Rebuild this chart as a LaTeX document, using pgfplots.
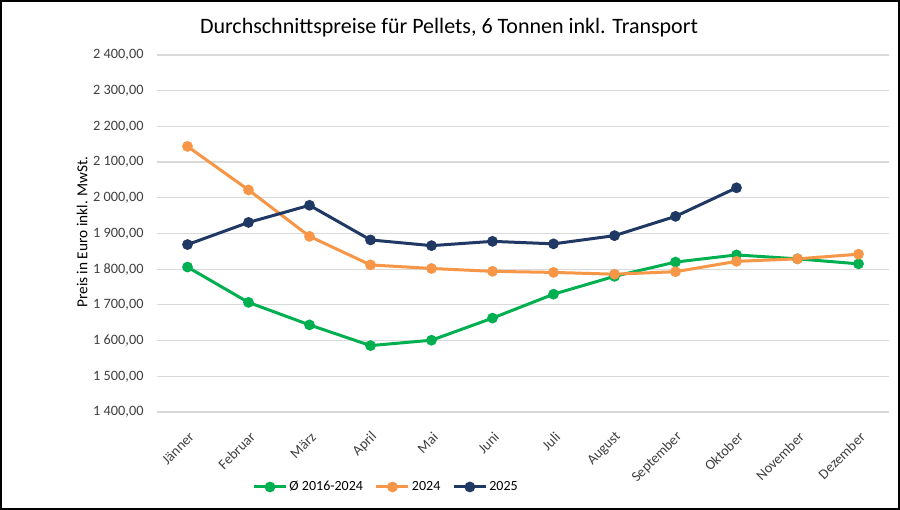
\documentclass[border=0pt]{standalone}
\usepackage{pgfplots}
\pgfplotsset{compat=1.18}
\usepackage{fontspec}
\setmainfont{Carlito}
\definecolor{cgreen}{HTML}{00B050}
\definecolor{corange}{HTML}{F79646}
\definecolor{cnavy}{HTML}{1F3864}
\definecolor{ctick}{HTML}{404040}
\definecolor{cgrid}{HTML}{D9D9D9}
\begin{document}
\begin{tikzpicture}
\useasboundingbox (0,0) rectangle (900bp,510bp);
\fill[white] (0,0) rectangle (900bp,510bp);
\begin{axis}[
  at={(157bp,98bp)}, anchor=south west,
  scale only axis, width=732bp, height=357bp,
  xmin=-0.5, xmax=11.5, ymin=1400, ymax=2400,
  axis line style={draw=none},
  major tick length=0pt,
  ymajorgrids, grid style={cgrid, line width=1.2bp},
  ytick={1400,1500,...,2400},
  yticklabels={{1 400,00},{1 500,00},{1 600,00},{1 700,00},{1 800,00},{1 900,00},{2 000,00},{2 100,00},{2 200,00},{2 300,00},{2 400,00}},
  yticklabel style={font=\fontsize{14.3bp}{17bp}\selectfont, text=ctick, xshift=-10bp},
  xtick={0,...,11},
  xticklabels={Jänner,Februar,März,April,Mai,Juni,Juli,August,September,Oktober,November,Dezember},
  xticklabel style={font=\fontsize{14.3bp}{17bp}\selectfont, text=ctick, rotate=45, anchor=east, inner sep=0pt, xshift=-13bp, yshift=-19bp},
  legend columns=3,
  legend style={at={(0.313,-0.21)}, anchor=center, draw=none, fill=none,
    font=\fontsize{14bp}{17bp}\selectfont, text=black,
    /tikz/every even column/.append style={column sep=10bp}},
  legend image code/.code={
    \draw[#1, mark repeat=2, mark phase=2] plot coordinates {(0bp,0bp) (16bp,0bp) (32bp,0bp)};
  },
  every axis plot/.append style={line width=3bp, mark=*, mark size=3.8bp, mark options={line width=0bp}},
]
\addplot[cgreen, mark options={fill=cgreen, draw=cgreen}] coordinates {
(0,1806) (1,1707) (2,1644) (3,1586) (4,1601) (5,1663) (6,1730) (7,1780) (8,1820) (9,1840) (10,1829) (11,1815)};
\addlegendentry{Ø 2016-2024}
\addplot[corange, mark options={fill=corange, draw=corange}] coordinates {
(0,2144) (1,2022) (2,1892) (3,1812) (4,1802) (5,1794) (6,1791) (7,1786) (8,1793) (9,1822) (10,1829) (11,1842)};
\addlegendentry{2024}
\addplot[cnavy, mark options={fill=cnavy, draw=cnavy}] coordinates {
(0,1869) (1,1931) (2,1979) (3,1882) (4,1866) (5,1878) (6,1871) (7,1894) (8,1948) (9,2028)};
\addlegendentry{2025}
\end{axis}
\node[font=\fontsize{22bp}{26bp}\selectfont] at (449bp,482bp) {Durchschnittspreise für Pellets, 6 Tonnen inkl. Transport};
\node[rotate=90, font=\fontsize{15.3bp}{18bp}\selectfont] at (82bp,278bp) {Preis in Euro inkl. MwSt.};
\draw[line width=2bp] (1bp,1bp) rectangle (899bp,509bp);
\end{tikzpicture}
\end{document}
